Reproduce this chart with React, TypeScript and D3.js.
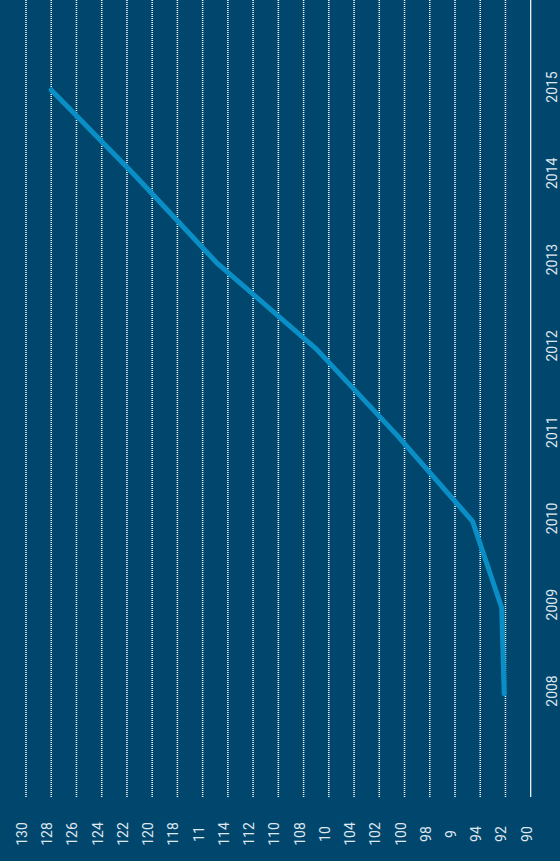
import { useEffect, useRef } from "react";
import * as d3 from "d3";

const years = ["2008", "2009", "2010", "2011", "2012", "2013", "2014", "2015"];
const values = [92.1, 92.3, 94.6, 100.6, 107.0, 114.9, 121.3, 128.0];
const tickValues = [90, 92, 94, 96, 98, 100, 102, 104, 106, 108, 110, 112, 114, 116, 118, 120, 122, 124, 126, 128, 130];
const tickLabels = ["90", "92", "94", "9", "98", "100", "102", "104", "10", "108", "110", "112", "114", "11", "118", "120", "122", "124", "126", "128", "130"];

const W = 560;
const H = 861;

export default function App() {
  const svgRef = useRef<SVGSVGElement>(null);

  useEffect(() => {
    if (!svgRef.current) return;
    const svg = d3.select(svgRef.current);
    svg.selectAll("*").remove();

    svg.append("rect").attr("width", W).attr("height", H).attr("fill", "#01466d");

    // value axis runs horizontally (chart is rotated)
    const x = d3.scaleLinear().domain([90, 130]).range([530.7, 26]);
    const y = d3.scalePoint<string>().domain(years).range([694, 90]);

    const gridBottom = 797;

    // Grid lines
    svg
      .append("g")
      .selectAll("line")
      .data(tickValues)
      .join("line")
      .attr("x1", (d) => x(d))
      .attr("x2", (d) => x(d))
      .attr("y1", 0)
      .attr("y2", gridBottom)
      .attr("stroke", "#ffffff")
      .attr("stroke-width", (d) => (d === 90 ? 1.2 : 1.5))
      .attr("stroke-dasharray", (d) => (d === 90 ? null : "1,1"));

    // Value labels
    svg
      .append("g")
      .selectAll("text")
      .data(tickValues)
      .join("text")
      .attr("transform", (d) => `translate(${x(d) + 1},834) rotate(-90)`)
      .attr("text-anchor", "middle")
      .attr("fill", "#dfe7ef")
      .attr("font-family", "Roboto, sans-serif")
      .attr("font-size", "14px")
      .text((_, i) => tickLabels[i]);

    // Year labels
    svg
      .append("g")
      .selectAll("text")
      .data(years)
      .join("text")
      .attr("transform", (d) => `translate(556.5,${(y(d) || 0) - 3}) rotate(-90)`)
      .attr("text-anchor", "middle")
      .attr("fill", "#dfe7ef")
      .attr("font-family", "Roboto, sans-serif")
      .attr("font-size", "14px")
      .text((d) => d);

    // Line
    const line = d3
      .line<number>()
      .x((d) => x(d))
      .y((_, i) => y(years[i]) || 0);

    svg
      .append("path")
      .datum(values)
      .attr("d", line)
      .attr("fill", "none")
      .attr("stroke", "#0a8ec6")
      .attr("stroke-width", 5)
      .attr("stroke-linecap", "round")
      .attr("stroke-linejoin", "round");
  }, []);

  return (
    <svg
      ref={svgRef}
      width={W}
      height={H}
      style={{ position: "fixed", top: 0, left: 0, display: "block" }}
    />
  );
}
